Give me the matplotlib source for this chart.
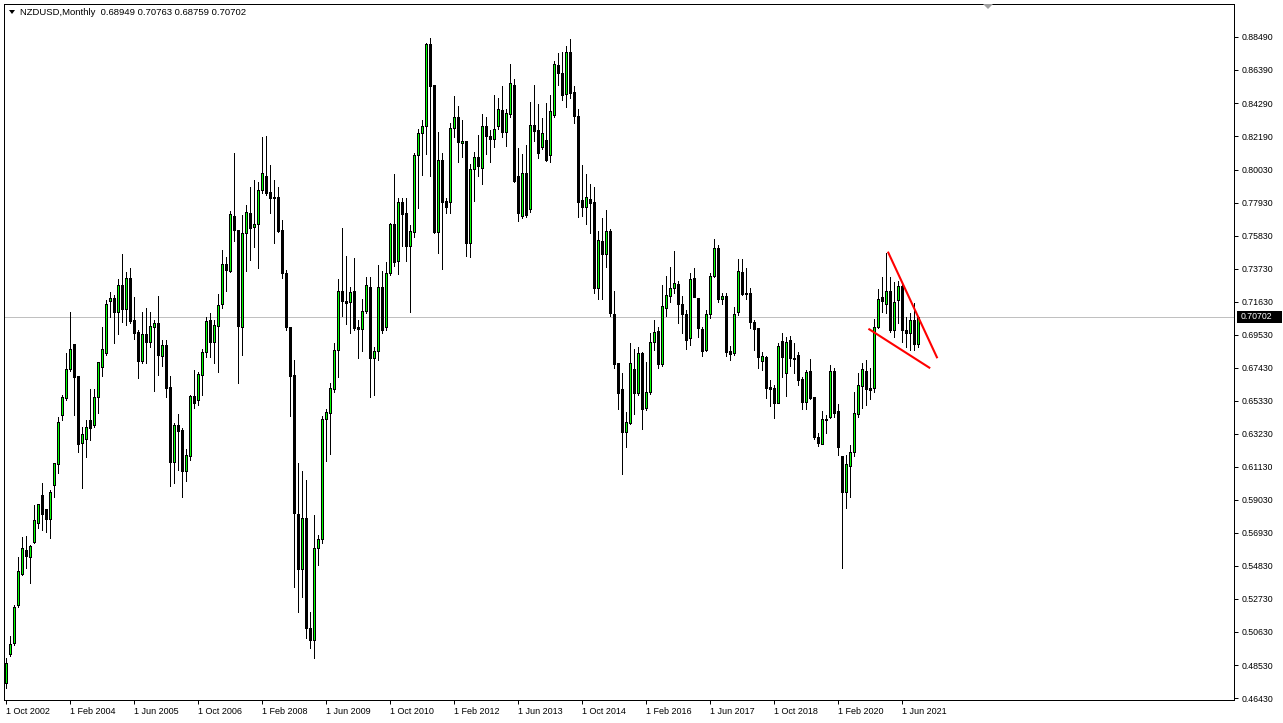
import matplotlib
matplotlib.use('Agg')
import matplotlib.pyplot as plt
from matplotlib.patches import Rectangle, Polygon
from matplotlib.transforms import blended_transform_factory

plt.rcParams['font.family'] = ['Liberation Sans', 'DejaVu Sans']

# NZDUSD monthly candles, Oct 2002 .. Oct 2021
opens = [
    0.4738, 0.4923, 0.4993, 0.5235, 0.5432, 0.5585, 0.5540, 0.5636, 0.5757, 0.5935,
    0.5846, 0.5782, 0.5998, 0.6132, 0.6444, 0.6552, 0.6736, 0.6896, 0.6692, 0.6266,
    0.6291, 0.6412, 0.6380, 0.6558, 0.6749, 0.6838, 0.7169, 0.7188, 0.7099, 0.7271,
    0.7118, 0.7316, 0.7048, 0.6972, 0.6787, 0.6959, 0.6908, 0.7004, 0.7029, 0.6819,
    0.6889, 0.6622, 0.6145, 0.6380, 0.6348, 0.6087, 0.6183, 0.6565, 0.6539, 0.6698,
    0.6845, 0.7048, 0.6908, 0.7010, 0.7150, 0.7405, 0.7360, 0.7710, 0.7621, 0.7004,
    0.7602, 0.7729, 0.7640, 0.7659, 0.7875, 0.7965, 0.7863, 0.7831, 0.7831, 0.7621,
    0.7347, 0.7004, 0.6698, 0.5814, 0.5464, 0.5788, 0.5088, 0.5012, 0.5598, 0.5655,
    0.6418, 0.6456, 0.6609, 0.6857, 0.7233, 0.7169, 0.7163, 0.7233, 0.7004, 0.6991,
    0.7106, 0.7258, 0.6806, 0.6851, 0.7258, 0.7004, 0.7347, 0.7659, 0.7424, 0.7799,
    0.7729, 0.7519, 0.7608, 0.8098, 0.8238, 0.8283, 0.8804, 0.8544, 0.7608, 0.8066,
    0.7805, 0.7799, 0.8270, 0.8340, 0.8175, 0.8187, 0.7538, 0.8009, 0.8085, 0.8015,
    0.8283, 0.8219, 0.8200, 0.8283, 0.8385, 0.8245, 0.8359, 0.8544, 0.7965, 0.7710,
    0.7984, 0.7755, 0.8289, 0.8257, 0.8149, 0.8194, 0.8098, 0.8353, 0.8671, 0.8620,
    0.8486, 0.8754, 0.8499, 0.8346, 0.7812, 0.7767, 0.7818, 0.7799, 0.7252, 0.7551,
    0.7468, 0.7615, 0.7086, 0.6775, 0.6609, 0.6336, 0.6393, 0.6736, 0.6584, 0.6838,
    0.6488, 0.6590, 0.6908, 0.6978, 0.6768, 0.7125, 0.7201, 0.7252, 0.7277, 0.7150,
    0.7086, 0.6934, 0.7316, 0.7188, 0.6991, 0.6857, 0.7086, 0.7328, 0.7506, 0.7182,
    0.7201, 0.6851, 0.6838, 0.7099, 0.7354, 0.7214, 0.7220, 0.7036, 0.6997, 0.6787,
    0.6813, 0.6622, 0.6616, 0.6520, 0.6915, 0.6711, 0.6921, 0.6806, 0.6826, 0.6673,
    0.6526, 0.6724, 0.6558, 0.6304, 0.6259, 0.6412, 0.6431, 0.6724, 0.6469, 0.6183,
    0.5954, 0.6119, 0.6208, 0.6450, 0.6628, 0.6724, 0.6616, 0.6616, 0.7004, 0.7195,
    0.7150, 0.7233, 0.6985, 0.7176, 0.7265, 0.6985, 0.6966, 0.7048, 0.68949,
]
highs = [
    0.4898, 0.5038, 0.5235, 0.5540, 0.5667, 0.5674, 0.5617, 0.5871, 0.5877, 0.6011,
    0.5846, 0.5967, 0.6138, 0.6431, 0.6571, 0.6838, 0.7099, 0.6896, 0.6692, 0.6367,
    0.6412, 0.6609, 0.6609, 0.6781, 0.7004, 0.7176, 0.7226, 0.7207, 0.7309, 0.7468,
    0.7354, 0.7379, 0.7195, 0.6985, 0.7099, 0.7125, 0.7099, 0.7048, 0.7201, 0.6921,
    0.6921, 0.6692, 0.6393, 0.6450, 0.6361, 0.6227, 0.6571, 0.6730, 0.6717, 0.6864,
    0.7067, 0.7093, 0.7048, 0.7214, 0.7494, 0.7449, 0.7742, 0.8111, 0.7621, 0.7716,
    0.7780, 0.7895, 0.7939, 0.7926, 0.8213, 0.8219, 0.8035, 0.7939, 0.7895, 0.7685,
    0.7366, 0.7004, 0.6794, 0.6138, 0.6087, 0.6030, 0.5190, 0.5807, 0.5680, 0.6437,
    0.6482, 0.6647, 0.6902, 0.7309, 0.7634, 0.7455, 0.7258, 0.7443, 0.7048, 0.7182,
    0.7322, 0.7322, 0.6876, 0.7398, 0.7360, 0.7417, 0.7665, 0.7977, 0.7825, 0.7825,
    0.7825, 0.7653, 0.8111, 0.8264, 0.8321, 0.8811, 0.8843, 0.8544, 0.8245, 0.8111,
    0.7825, 0.8302, 0.8474, 0.8410, 0.8321, 0.8187, 0.8041, 0.8117, 0.8225, 0.8359,
    0.8340, 0.8257, 0.8480, 0.8461, 0.8537, 0.8391, 0.8677, 0.8582, 0.8143, 0.8105,
    0.8162, 0.8435, 0.8544, 0.8423, 0.8334, 0.8429, 0.8480, 0.8696, 0.8747, 0.8754,
    0.8792, 0.8836, 0.8537, 0.8391, 0.8035, 0.7977, 0.7914, 0.7895, 0.7615, 0.7697,
    0.7748, 0.7627, 0.7233, 0.6775, 0.6711, 0.6463, 0.6902, 0.6864, 0.6876, 0.6845,
    0.6781, 0.6966, 0.7048, 0.7004, 0.7271, 0.7328, 0.7386, 0.7487, 0.7296, 0.7201,
    0.7112, 0.7347, 0.7379, 0.7188, 0.7004, 0.7112, 0.7347, 0.7564, 0.7525, 0.7220,
    0.7220, 0.6883, 0.7131, 0.7436, 0.7436, 0.7379, 0.7252, 0.7048, 0.6997, 0.6845,
    0.6819, 0.6666, 0.6635, 0.6902, 0.6966, 0.6940, 0.6946, 0.6902, 0.6845, 0.6686,
    0.6730, 0.6800, 0.6558, 0.6329, 0.6469, 0.6444, 0.6762, 0.6743, 0.6514, 0.6183,
    0.6189, 0.6253, 0.6590, 0.6711, 0.6775, 0.6794, 0.6743, 0.7055, 0.7245, 0.7322,
    0.7475, 0.7322, 0.7290, 0.7296, 0.7290, 0.7067, 0.7093, 0.7156, 0.70763,
]
lows = [
    0.4707, 0.4910, 0.4980, 0.5222, 0.5426, 0.5470, 0.5375, 0.5629, 0.5725, 0.5712,
    0.5699, 0.5661, 0.5922, 0.6075, 0.6412, 0.6539, 0.6724, 0.6444, 0.6208, 0.5979,
    0.6177, 0.6285, 0.6367, 0.6456, 0.6692, 0.6826, 0.7067, 0.6902, 0.6959, 0.7036,
    0.7016, 0.7029, 0.6927, 0.6679, 0.6775, 0.6775, 0.6876, 0.6596, 0.6698, 0.6756,
    0.6558, 0.5992, 0.6011, 0.6094, 0.5922, 0.6024, 0.6157, 0.6488, 0.6507, 0.6571,
    0.6813, 0.6813, 0.6775, 0.6717, 0.7125, 0.7233, 0.7354, 0.7551, 0.6647, 0.6826,
    0.7360, 0.7430, 0.7513, 0.7379, 0.7856, 0.7844, 0.7729, 0.7538, 0.7608, 0.7316,
    0.6985, 0.6437, 0.5349, 0.5190, 0.5286, 0.5025, 0.4961, 0.4898, 0.5489, 0.5629,
    0.6151, 0.6196, 0.6590, 0.6686, 0.7074, 0.7023, 0.6966, 0.6985, 0.6806, 0.6851,
    0.7093, 0.6558, 0.6571, 0.6794, 0.6966, 0.6985, 0.7335, 0.7392, 0.7341, 0.7519,
    0.7424, 0.7099, 0.7576, 0.7761, 0.7971, 0.8105, 0.7965, 0.7602, 0.7475, 0.7373,
    0.7729, 0.7729, 0.8213, 0.8054, 0.8085, 0.7455, 0.7449, 0.7805, 0.7965, 0.7914,
    0.8105, 0.8054, 0.8149, 0.8264, 0.8213, 0.8155, 0.8340, 0.7926, 0.7678, 0.7697,
    0.7704, 0.7735, 0.8187, 0.8079, 0.8136, 0.8060, 0.8054, 0.8340, 0.8544, 0.8448,
    0.8404, 0.8461, 0.8302, 0.7704, 0.7710, 0.7659, 0.7602, 0.7220, 0.7182, 0.7182,
    0.7386, 0.7074, 0.6743, 0.6482, 0.6068, 0.6240, 0.6386, 0.6450, 0.6571, 0.6355,
    0.6476, 0.6577, 0.6857, 0.6743, 0.6756, 0.7074, 0.7163, 0.7220, 0.7029, 0.6966,
    0.6864, 0.6889, 0.7195, 0.6940, 0.6819, 0.6851, 0.7061, 0.7322, 0.7163, 0.7150,
    0.6819, 0.6794, 0.6826, 0.7080, 0.7207, 0.7182, 0.6997, 0.6857, 0.6743, 0.6730,
    0.6552, 0.6501, 0.6425, 0.6520, 0.6686, 0.6565, 0.6756, 0.6711, 0.6635, 0.6482,
    0.6482, 0.6546, 0.6291, 0.6247, 0.6259, 0.6329, 0.6425, 0.6431, 0.6189, 0.5470,
    0.5852, 0.5922, 0.6183, 0.6431, 0.6488, 0.6507, 0.6546, 0.6590, 0.6997, 0.7099,
    0.7093, 0.6972, 0.6940, 0.7029, 0.6908, 0.6876, 0.6857, 0.6857, 0.68759,
]
closes = [
    0.4866, 0.4987, 0.5222, 0.5451, 0.5598, 0.5547, 0.5610, 0.5776, 0.5877, 0.5814,
    0.5782, 0.5954, 0.6138, 0.6399, 0.6558, 0.6736, 0.6864, 0.6686, 0.6259, 0.6323,
    0.6367, 0.6361, 0.6558, 0.6781, 0.6864, 0.7150, 0.7188, 0.7099, 0.7271, 0.7118,
    0.7316, 0.7042, 0.6966, 0.6787, 0.6959, 0.6908, 0.7010, 0.7029, 0.6826, 0.6889,
    0.6616, 0.6145, 0.6380, 0.6342, 0.6087, 0.6189, 0.6565, 0.6520, 0.6705, 0.6845,
    0.7042, 0.6908, 0.7016, 0.7144, 0.7405, 0.7366, 0.7723, 0.7621, 0.7010, 0.7602,
    0.7735, 0.7634, 0.7659, 0.7875, 0.7984, 0.7856, 0.7825, 0.7825, 0.7615, 0.7347,
    0.7004, 0.6692, 0.5820, 0.5464, 0.5788, 0.5088, 0.5012, 0.5598, 0.5655, 0.6418,
    0.6463, 0.6616, 0.6857, 0.7233, 0.7169, 0.7156, 0.7226, 0.6997, 0.6991, 0.7106,
    0.7271, 0.6806, 0.6851, 0.7258, 0.6985, 0.7347, 0.7659, 0.7417, 0.7799, 0.7723,
    0.7519, 0.7615, 0.8098, 0.8238, 0.8283, 0.8804, 0.8537, 0.7608, 0.8066, 0.7799,
    0.7767, 0.8270, 0.8340, 0.8181, 0.8187, 0.7538, 0.8009, 0.8085, 0.8028, 0.8283,
    0.8219, 0.8200, 0.8264, 0.8391, 0.8245, 0.8365, 0.8556, 0.7933, 0.7729, 0.7984,
    0.7716, 0.8289, 0.8251, 0.8111, 0.8238, 0.8066, 0.8378, 0.8677, 0.8620, 0.8480,
    0.8754, 0.8493, 0.8346, 0.7799, 0.7767, 0.7831, 0.7793, 0.7252, 0.7557, 0.7468,
    0.7615, 0.7093, 0.6768, 0.6584, 0.6336, 0.6399, 0.6775, 0.6584, 0.6838, 0.6482,
    0.6590, 0.6908, 0.6972, 0.6768, 0.7137, 0.7207, 0.7252, 0.7284, 0.7150, 0.7086,
    0.6921, 0.7309, 0.7195, 0.6997, 0.6851, 0.7086, 0.7328, 0.7506, 0.7182, 0.7201,
    0.6845, 0.6832, 0.7086, 0.7360, 0.7214, 0.7220, 0.7036, 0.6991, 0.6813, 0.6819,
    0.6616, 0.6609, 0.6520, 0.6883, 0.6813, 0.6908, 0.6806, 0.6800, 0.6666, 0.6526,
    0.6717, 0.6552, 0.6304, 0.6266, 0.6418, 0.6418, 0.6724, 0.6456, 0.6240, 0.5954,
    0.6132, 0.6208, 0.6456, 0.6635, 0.6736, 0.6609, 0.6603, 0.7004, 0.7182, 0.7169,
    0.7233, 0.6985, 0.7163, 0.7265, 0.6985, 0.6966, 0.7048, 0.6896, 0.70702,
]

# time axis labels (every 16 bars from the first one)
date_labels = ['1 Oct 2002', '1 Feb 2004', '1 Jun 2005', '1 Oct 2006', '1 Feb 2008',
               '1 Jun 2009', '1 Oct 2010', '1 Feb 2012', '1 Jun 2013', '1 Oct 2014',
               '1 Feb 2016', '1 Jun 2017', '1 Oct 2018', '1 Feb 2020', '1 Jun 2021']
date_bars = [0, 16, 32, 48, 64, 80, 96, 112, 128, 144, 160, 176, 192, 208, 224]

# price scale labels
price_levels = [0.88490, 0.86390, 0.84290, 0.82190, 0.80030, 0.77930, 0.75830,
                0.73730, 0.71630, 0.69530, 0.67430, 0.65330, 0.63230, 0.61130,
                0.59030, 0.56930, 0.54830, 0.52730, 0.50630, 0.48530, 0.46430]

# hand-drawn trend lines (bar index, price)
upper_line_x = [220.65, 232.8]
upper_line_y = [0.7477, 0.6811]
lower_line_x = [215.9, 230.9]
lower_line_y = [0.6989, 0.6745]

W, H = 1283, 723
fig = plt.figure(figsize=(W / 100, H / 100), dpi=100)
fig.patch.set_facecolor('white')


def fx(px):
    return px / W


def fy(py):
    return 1 - py / H


ax = fig.add_axes([fx(4), fy(700), (1234 - 4) / W, (700 - 4) / H])
ax.set_facecolor('white')

bars = list(range(len(opens)))
px_line = 72 / 100  # one pixel in points

# wicks
ax.vlines(bars, lows, highs, colors='black', linewidth=px_line,
          antialiased=False, zorder=2)

# bodies
bottoms = [min(o, c) for o, c in zip(opens, closes)]
heights = [abs(c - o) for o, c in zip(opens, closes)]
fills = ['#00FF00' if c >= o else 'black' for o, c in zip(opens, closes)]
ax.bar(bars, heights, width=0.5, bottom=bottoms, color=fills,
       edgecolor='black', linewidth=px_line, antialiased=False, zorder=3)

# current price line
ax.axhline(closes[-1], color='#C0C0C0', linewidth=px_line, zorder=1)

# trend lines
ax.plot(upper_line_x, upper_line_y, color='red', linewidth=1.5, zorder=4)
ax.plot(lower_line_x, lower_line_y, color='red', linewidth=1.5, zorder=4)

ax.set_xlim((4 - 5.7) / 4, (1234 - 5.7) / 4)
ax.set_ylim(0.90844 - 0.0006363 * 700, 0.90844 - 0.0006363 * 4)

for sp in ax.spines.values():
    sp.set_linewidth(px_line)
    sp.set_color('black')

# price scale on the right
ax.yaxis.tick_right()
ax.set_yticks(price_levels)
ax.set_yticklabels([f'{v:.5f}' for v in price_levels])
ax.tick_params(axis='y', direction='out', length=3, width=px_line, pad=2.5,
               labelsize=6.3, colors='black')

# time scale at the bottom
ax.set_xticks(date_bars)
ax.set_xticklabels(date_labels)
ax.tick_params(axis='x', direction='out', length=3, width=px_line, pad=2,
               labelsize=6.5, colors='black')
for lab in ax.get_xticklabels():
    lab.set_horizontalalignment('left')

# current price tag
tr = blended_transform_factory(ax.transAxes, ax.transData)
tag_h = 12 * 0.0006363
ax.add_patch(Rectangle((1 + 3 / 1230, closes[-1] - tag_h / 2), 45 / 1230, tag_h,
                       transform=tr, facecolor='black', edgecolor='none',
                       clip_on=False, zorder=5))
ax.text(1 + 7 / 1230, closes[-1], f'{closes[-1]:.5f}', transform=tr,
        color='white', fontsize=6.3, va='center', ha='left', zorder=6,
        clip_on=False)

# header
fig.add_artist(Polygon([(fx(9), fy(10)), (fx(15), fy(10)), (fx(12), fy(14))],
                       closed=True, facecolor='black', edgecolor='none',
                       transform=fig.transFigure))
header = (f'NZDUSD,Monthly  {opens[-1]:.5f} {highs[-1]:.5f} '
          f'{lows[-1]:.5f} {closes[-1]:.5f}')
fig.text(fx(20), fy(12.5), header, fontsize=6.8, va='center', ha='left',
         color='black')

# chart shift marker
fig.add_artist(Polygon([(fx(983), fy(4)), (fx(993), fy(4)), (fx(988), fy(9))],
                       closed=True, facecolor='#A0A0A0', edgecolor='none',
                       transform=fig.transFigure))

fig.savefig('out.png', dpi=100, facecolor='white')
